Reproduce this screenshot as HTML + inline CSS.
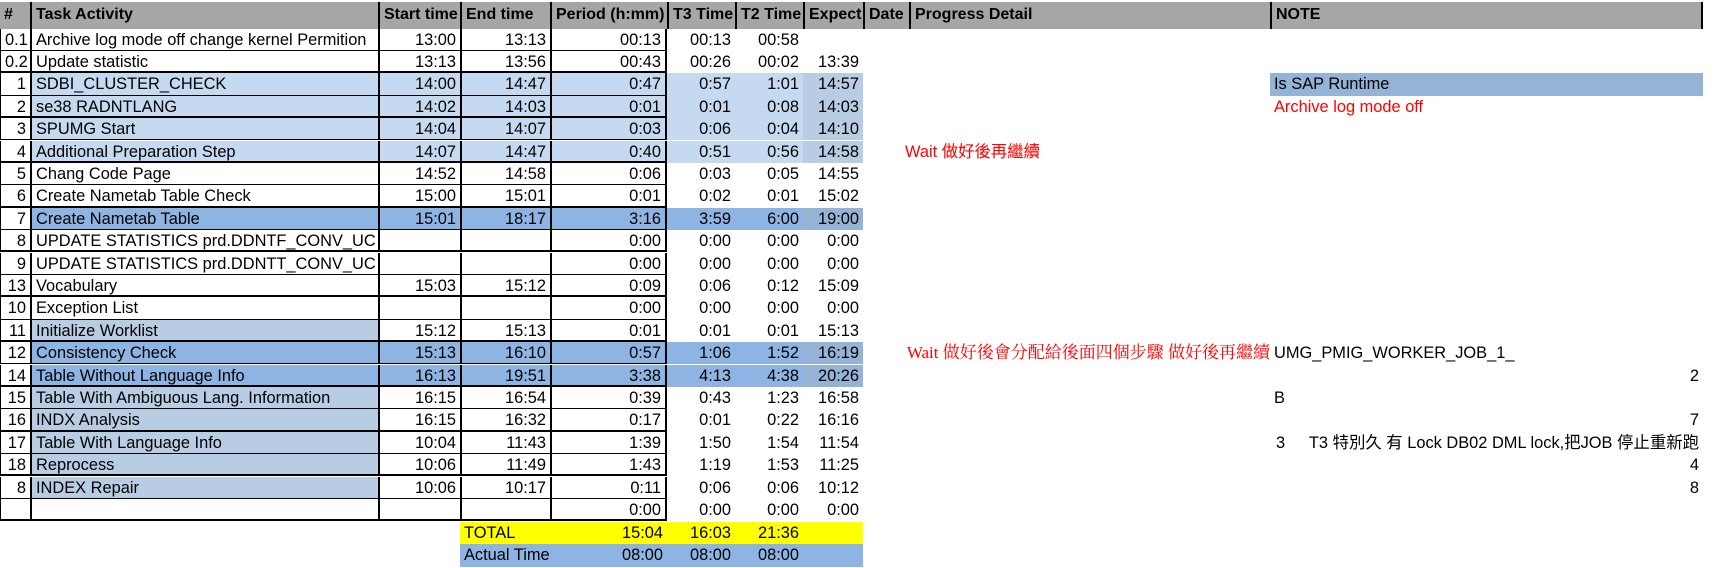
<!DOCTYPE html>
<html><head><meta charset="utf-8">
<style>
html,body{margin:0;padding:0;background:#fff;}
body{width:1717px;height:568px;position:relative;overflow:hidden;font-family:"Liberation Sans","Noto Sans CJK TC",sans-serif;font-size:16.4px;color:#000;}
.c{position:absolute;box-sizing:border-box;white-space:nowrap;overflow:visible;line-height:22px;padding:0 4px;}
.r{text-align:right;}
.h{font-weight:bold;font-size:16px;background:#a6a6a6;}
.red{color:#ff0000;}
.serif{font-family:"Liberation Serif","Noto Serif CJK SC",serif;font-size:17px;}
</style></head>
<body>
<script>
const colEdges=[0,30,378,460,550,667,735,803,863,909,1270,1703];
const headers=["#","Task Activity","Start time","End time","Period (h:mm)","T3 Time","T2 Time","Expect","Date","Progress Detail","NOTE"];
const ids=["0.1","0.2","1","2","3","4","5","6","7","8","9","13","10","11","12","14","15","16","17","18","8",""];
const tasks=["Archive log mode off change kernel Permition","Update statistic","SDBI_CLUSTER_CHECK","se38 RADNTLANG","SPUMG Start","Additional Preparation Step","Chang Code Page","Create Nametab Table Check","Create Nametab Table","UPDATE STATISTICS prd.DDNTF_CONV_UC","UPDATE STATISTICS prd.DDNTT_CONV_UC","Vocabulary","Exception List","Initialize Worklist","Consistency Check","Table Without Language Info","Table With Ambiguous Lang. Information","INDX Analysis","Table With Language Info","Reprocess","INDEX Repair",""];
const starts=["13:00","13:13","14:00","14:02","14:04","14:07","14:52","15:00","15:01","","","15:03","","15:12","15:13","16:13","16:15","16:15","10:04","10:06","10:06",""];
const ends=["13:13","13:56","14:47","14:03","14:07","14:47","14:58","15:01","18:17","","","15:12","","15:13","16:10","19:51","16:54","16:32","11:43","11:49","10:17",""];
const periods=["00:13","00:43","0:47","0:01","0:03","0:40","0:06","0:01","3:16","0:00","0:00","0:09","0:00","0:01","0:57","3:38","0:39","0:17","1:39","1:43","0:11","0:00"];
const t3=["00:13","00:26","0:57","0:01","0:06","0:51","0:03","0:02","3:59","0:00","0:00","0:06","0:00","0:01","1:06","4:13","0:43","0:01","1:50","1:19","0:06","0:00"];
const t2=["00:58","00:02","1:01","0:08","0:04","0:56","0:05","0:01","6:00","0:00","0:00","0:12","0:00","0:01","1:52","4:38","1:23","0:22","1:54","1:53","0:06","0:00"];
const expect=["","13:39","14:57","14:03","14:10","14:58","14:55","15:02","19:00","0:00","0:00","15:09","0:00","15:13","16:19","20:26","16:58","16:16","11:54","11:25","10:12","0:00"];
const rowStyle=["w","w","l","l","l","l","w","w","m","w","w","w","w","t","m","m","t","t","t","t","t","w"];
const totals=["TOTAL","15:04","16:03","21:36"];
const actuals=["Actual Time","08:00","08:00","08:00"];

const TOP=28.5, RH=22.4;
function cell(x0,x1,y,h,txt,cls,bg){
  const d=document.createElement('div');
  d.className='c '+(cls||'');
  d.style.left=x0+'px';d.style.width=(x1-x0)+'px';d.style.top=y+'px';d.style.height=h+'px';
  d.style.lineHeight=h+'px';
  if(bg)d.style.background=bg;
  d.textContent=txt;
  document.body.appendChild(d);
  return d;
}
headers.forEach((t,i)=>{
  const d=cell(colEdges[i],colEdges[i+1],2,26.5,t,'h');
  
  
  d.style.borderLeft=i>0?'2px solid #000':'none';
  if(i==headers.length-1)d.style.borderRight='2px solid #000';
});
const L='#c5d9f1',LE='#b8cce4',M='#8db4e2',ME='#95b3d7',T='#b8cce4';
ids.forEach((id,r)=>{
  const y=TOP+r*RH, s=rowStyle[r];
  const bTask=s=='l'?L:s=='m'?M:s=='t'?T:null;
  const bTime=s=='l'?L:s=='m'?M:null;
  const bExp=s=='l'?LE:s=='m'?ME:null;
  const vals=[[id,'r',null],[tasks[r],'',bTask],[starts[r],'r',bTime],[ends[r],'r',bTime],[periods[r],'r',bTime],[t3[r],'r',bTime],[t2[r],'r',bTime],[expect[r],'r',bExp]];
  vals.forEach((v,i)=>{
    const d=cell(colEdges[i],colEdges[i+1],y,RH,v[0],v[1],v[2]);
    
    
    if(i<=4){
      d.style.borderLeft=(i==0?1:2)+'px solid #000';
      d.style.borderBottom=(r%2==0?1:2)+'px solid #000';
      if(i==4)d.style.borderRight='2px solid #000';
    }
  });
});
const tx=[460,550,667,735,803,863];
[[totals,'#ffff00','total-row'],[actuals,'#8db4e2','actual-time-row']].forEach((arr,k)=>{
  const y=TOP+22*RH+(k==0?1:23);
  const bg=cell(460,863,y,k==0?22:23,'','',arr[1]);
  
  
  const a=arr[0];
  const l=cell(460,550,y,22,a[0],'');
  
  
  for(let j=1;j<4;j++){
    const d=cell(tx[j],tx[j+1],y,22,a[j],'r');
    
    
  }
});
function note(x0,x1,r,txt,cls,bg,name){
  const d=cell(x0,x1,TOP+r*RH,RH,txt,cls,bg);
  
  
}
note(1270,1703,2,'Is SAP Runtime','', '#95b3d7','note-is-sap-runtime');
note(1270,1703,3,'Archive log mode off','red',null,'note-archive-log-mode-off');
note(901,1270,5,'Wait 做好後再繼續','red',null,'progress-wait-additional-prep');
note(880,1274,14,'Wait 做好後會分配給後面四個步驟 做好後再繼續','red serif r',null,'progress-wait-consistency-check');
note(1270,1703,14,'UMG_PMIG_WORKER_JOB_1_','',null,'note-worker-job');
note(1270,1703,15,'2','r',null,'note-2');
note(1270,1703,16,'B','',null,'note-b');
note(1270,1703,17,'7','r',null,'note-7');
note(1272,1703,18,'3','',null,'note-3');
note(1290,1703,18,'T3 特別久 有 Lock DB02 DML lock,把JOB 停止重新跑','r',null,'note-t3-lock');
note(1270,1703,19,'4','r',null,'note-4');
note(1270,1703,20,'8','r',null,'note-8');
</script>
</body></html>
